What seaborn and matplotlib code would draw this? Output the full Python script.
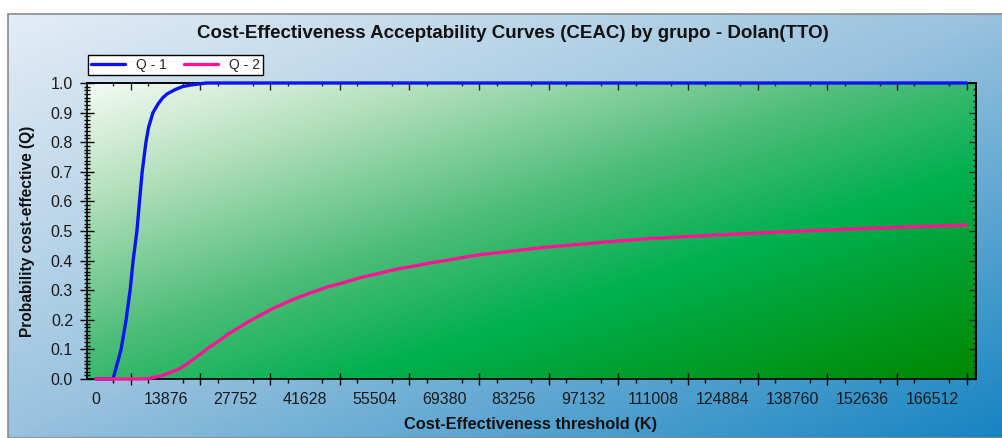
import numpy as np
import pandas as pd
import seaborn as sns
import matplotlib.pyplot as plt
from matplotlib.colors import LinearSegmentedColormap
from matplotlib.lines import Line2D
from matplotlib.patches import Rectangle
from matplotlib.ticker import MultipleLocator, FixedLocator, NullFormatter, FormatStrFormatter

sns.set_theme(style="ticks")
plt.rcParams["font.family"] = ["Liberation Sans", "DejaVu Sans"]

# ------------ Data ------------
STEP = 13876
tick_values = [STEP * k for k in range(13)]
tick_labels = [str(v) for v in tick_values]

q1_wtp = [0, 3400, 5000, 6000, 6800, 7400, 8150, 8670, 9200, 9950, 10470,
          11350, 12400, 13300, 14150, 15800, 17300, 18800, 22000, 173450]
q1_prob = [0.0, 0.0, 0.1, 0.2, 0.3, 0.4, 0.5, 0.6, 0.7, 0.8, 0.85,
           0.9, 0.93, 0.95, 0.963, 0.978, 0.988, 0.993, 1.0, 1.0]

q2_wtp = [0, 8000, 10200, 12800, 14080, 16800, 18720, 20800, 22710, 24800,
          26690, 28800, 30680, 32800, 35320, 38200, 40640, 43400, 45960,
          48800, 52590, 56900, 59900, 63500, 66530, 70300, 73170, 76900,
          81810, 88900, 100900, 110000, 120900, 130000, 140900, 150000,
          160900, 173450]
q2_prob = [0.0, 0.0, 0.001, 0.01, 0.017, 0.036, 0.058, 0.084, 0.109, 0.132,
           0.156, 0.177, 0.197, 0.216, 0.239, 0.261, 0.278, 0.295, 0.310,
           0.323, 0.342, 0.359, 0.371, 0.382, 0.392, 0.402, 0.411, 0.421,
           0.430, 0.444, 0.462, 0.474, 0.484, 0.492, 0.500, 0.506,
           0.513, 0.520]

groups = ["Q - 1", "Q - 2"]
colors = {"Q - 1": "#0a14f0", "Q - 2": "#ff1493"}

df = pd.concat([
    pd.DataFrame({"wtp": q1_wtp, "prob": q1_prob, "grupo": groups[0]}),
    pd.DataFrame({"wtp": q2_wtp, "prob": q2_prob, "grupo": groups[1]}),
])

# ------------ Figure ------------
W, H = 1003, 438
fig = plt.figure(figsize=(W / 100, H / 100), dpi=100)
fig.patch.set_facecolor("white")

# blue gradient backdrop inside the grey frame
bx0, by1 = 8 / W, 1 - 14 / H
bg = fig.add_axes([bx0, 0, 1 - bx0, by1], zorder=-2)
bg.set_axis_off()
n = 256
u, v = np.meshgrid(np.linspace(0, 1, n), np.linspace(0, 1, n))
bg_cmap = LinearSegmentedColormap.from_list(
    "bgblue", [(0, "#e4edf6"), (0.5, "#98c2de"), (1, "#1684c2")])
bg.imshow((u + v) / 2, cmap=bg_cmap, aspect="auto", extent=(0, 1, 0, 1),
          vmin=0, vmax=1)
bg.set_xlim(0, 1)
bg.set_ylim(0, 1)
fig.patches.append(Rectangle((bx0, 0), 1 - bx0, by1, transform=fig.transFigure,
                             fill=False, edgecolor="#8a8a8a", linewidth=1.2))

ax = fig.add_axes([87 / W, 1 - 379 / H, (976 - 87) / W, (379 - 83) / H])
ax.patch.set_visible(False)

xlim = (-1790, 175300)
ax.set_xlim(*xlim)
ax.set_ylim(0, 1)

# green gradient in plot area
plot_cmap = LinearSegmentedColormap.from_list(
    "plotgreen", [(0, "#f4faf4"), (0.2, "#b2dfba"), (0.45, "#4cbc78"),
                  (0.65, "#00b050"), (1, "#008800")])
ax.imshow((u + v) / 2, cmap=plot_cmap, aspect="auto",
          extent=(xlim[0], xlim[1], 0, 1), vmin=0, vmax=1, zorder=0)

sns.lineplot(data=df, x="wtp", y="prob", hue="grupo", palette=colors,
             linewidth=2.4, sort=False, legend=False, ax=ax, zorder=3)
for line in ax.lines:
    line.set_clip_on(False)
ax.set_xlabel("")
ax.set_ylabel("")

# ------------ Ticks ------------
major_x = [STEP * (k + 0.5) for k in range(13)]
minor_x = [STEP * (k + 0.25) for k in range(13)] + [STEP * (k + 0.75) for k in range(12)]
ax.xaxis.set_major_locator(FixedLocator(major_x))
ax.xaxis.set_minor_locator(FixedLocator(minor_x))
ax.xaxis.set_major_formatter(NullFormatter())
ax.tick_params(axis="x", which="major", direction="inout", length=8, width=1,
               color="black", bottom=True, top=False)
ax.tick_params(axis="x", which="minor", direction="out", length=3, width=1,
               color="black", bottom=True, top=False)

sec = ax.secondary_xaxis("bottom")
sec.set_xticks(tick_values, labels=tick_labels)
sec.tick_params(length=0, pad=9, labelsize=11.5, labelcolor="#1a1a1a")
sec.spines["bottom"].set_visible(False)

top = ax.secondary_xaxis("top")
top.set_xticks(major_x)
top.set_xticks(minor_x, minor=True)
top.tick_params(which="major", direction="in", length=5, width=1, labeltop=False)
top.tick_params(which="minor", direction="in", length=2.5, width=1, labeltop=False)
top.spines["top"].set_linewidth(1.2)

ax.yaxis.set_major_locator(MultipleLocator(0.1))
ax.yaxis.set_minor_locator(MultipleLocator(0.0125))
ax.yaxis.set_major_formatter(FormatStrFormatter("%.1f"))
ax.tick_params(axis="y", which="major", direction="inout", length=10, width=1,
               color="black", pad=5, labelsize=11.5, labelcolor="#1a1a1a")
ax.tick_params(axis="y", which="minor", direction="inout", length=5, width=1,
               color="black")

right = ax.secondary_yaxis("right")
right.set_yticks(np.arange(0, 1.01, 0.1))
right.yaxis.set_minor_locator(MultipleLocator(0.02))
right.tick_params(which="major", direction="in", length=5, width=1, labelright=False)
right.tick_params(which="minor", direction="in", length=2.5, width=1, labelright=False)
right.spines["right"].set_linewidth(1.2)

for s in ax.spines.values():
    s.set_color("black")
    s.set_linewidth(1.2)

# ------------ Texts ------------
fig.text(0.511, 1 - 34 / H,
         "Cost-Effectiveness Acceptability Curves (CEAC) by grupo - Dolan(TTO)",
         ha="center", va="center", fontsize=13.5, fontweight="bold", color="#111111")
fig.text(531 / W, 1 - 424 / H, "Cost-Effectiveness threshold (K)",
         ha="center", va="center", fontsize=11.8, fontweight="bold", color="#111111")
fig.text(28 / W, 1 - 231 / H, "Probability cost-effective (Q)", rotation=90,
         ha="center", va="center", fontsize=11.2, fontweight="bold", color="#111111")

handles = [Line2D([0], [0], color=colors[g], linewidth=2.4) for g in groups]
leg = ax.legend(handles, groups, ncol=2, loc="lower left",
                bbox_to_anchor=(0.0015, 1.027), borderaxespad=0, frameon=True,
                fancybox=False, edgecolor="black", framealpha=1, fontsize=10,
                handlelength=2.45, columnspacing=1.2, borderpad=0.2,
                handletextpad=0.8)
leg.get_frame().set_linewidth(1)

fig.savefig("out.png", dpi=100)
